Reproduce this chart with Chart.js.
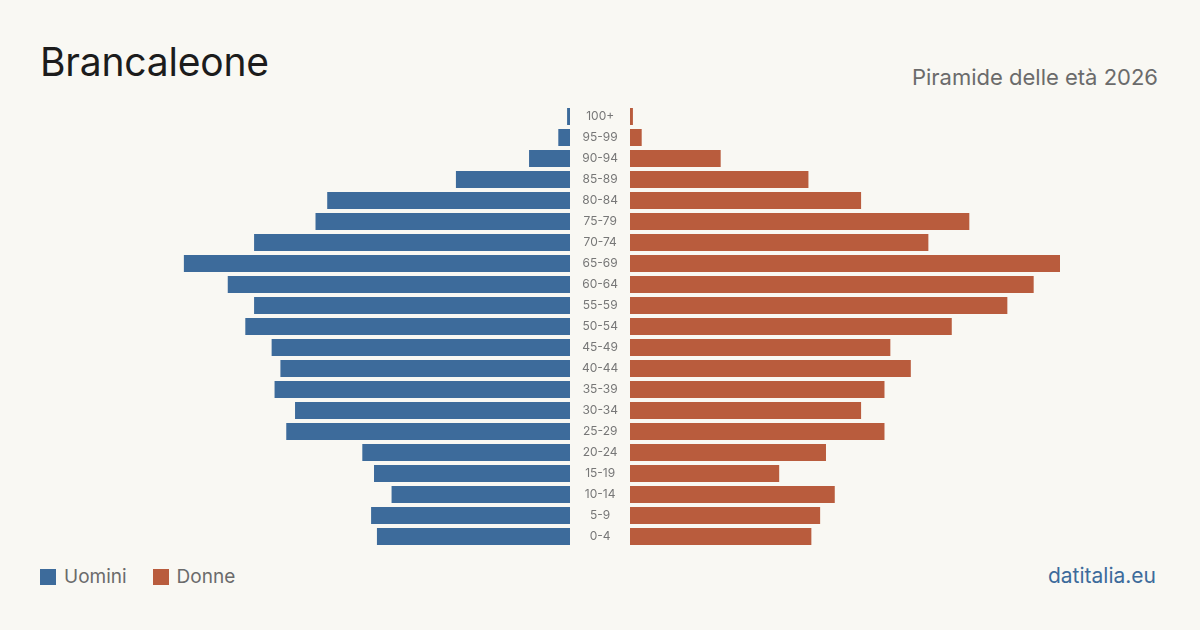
<!DOCTYPE html>
<html>
<head>
<meta charset="utf-8">
<script src="https://cdn.jsdelivr.net/npm/chart.js@4"></script>
<style>
  body { margin: 0; background: #f9f8f3; font-family: Inter, "Noto Sans", sans-serif; }
  #wrap { position: relative; width: 1200px; height: 630px; overflow: hidden; }
  #title { position: absolute; left: 40px; top: 38px; font-size: 39px; color: #1c1c1c; letter-spacing: -0.2px; }
  #sub { position: absolute; right: 42px; top: 64px; font-size: 22px; color: #6b6b6b; }
  .box { position: absolute; }
  #legend { position: absolute; left: 40px; top: 565px; font-size: 19px; color: #6b6b6b; display: flex; align-items: center; }
  #legend span.sw { display: inline-block; width: 16px; height: 16px; margin-right: 8px; }
  #legend span.it { display: flex; align-items: center; margin-right: 26px; }
  #src { position: absolute; right: 44px; top: 563px; font-size: 21px; color: #3d6b9b; }
</style>
</head>
<body>
<div id="wrap">
  <div id="title">Brancaleone</div>
  <div id="sub">Piramide delle età 2026</div>
  <div class="box" style="left:140px; top:106px; width:490px; height:441px;"><canvas id="left"></canvas></div>
  <div class="box" style="left:630px; top:106px; width:430px; height:441px;"><canvas id="right"></canvas></div>
  <div id="legend">
    <span class="it"><span class="sw" style="background:#3d6b9b"></span>Uomini</span>
    <span class="it"><span class="sw" style="background:#b95c3d"></span>Donne</span>
  </div>
  <div id="src">datitalia.eu</div>
</div>
<script>
const ageGroups = ['100+', '95-99', '90-94', '85-89', '80-84', '75-79', '70-74', '65-69', '60-64', '55-59',
  '50-54', '45-49', '40-44', '35-39', '30-34', '25-29', '20-24', '15-19', '10-14', '5-9', '0-4']
const men = [1, 4, 14, 39, 83, 87, 108, 132, 117, 108, 111, 102, 99, 101, 94, 97, 71, 67, 61, 68, 66]
const women = [1, 4, 31, 61, 79, 116, 102, 147, 138, 129, 110, 89, 96, 87, 79, 87, 67, 51, 70, 65, 62]
const maxVal = Math.max(...men, ...women)

const common = {
  responsive: true,
  maintainAspectRatio: false,
  animation: false,
  indexAxis: 'y',
  plugins: { legend: { display: false }, tooltip: { enabled: false } }
}

new Chart(document.getElementById('left'), {
  type: 'bar',
  data: {
    labels: ageGroups,
    datasets: [{ label: 'Uomini', data: men, backgroundColor: '#3d6b9b', barPercentage: 1, categoryPercentage: 0.81 }]
  },
  options: {
    ...common,
    scales: {
      x: { display: false, reverse: true, min: 0, max: maxVal },
      y: {
        position: 'right',
        grid: { display: false },
        border: { display: false },
        afterFit: (scale) => {
          scale.width = 60
          scale.paddingTop = 0
          scale.paddingBottom = 0
        },
        ticks: { crossAlign: 'center', padding: 4, color: '#777', font: { family: 'Inter', size: 12 } }
      }
    }
  }
})

new Chart(document.getElementById('right'), {
  type: 'bar',
  data: {
    labels: ageGroups,
    datasets: [{ label: 'Donne', data: women, backgroundColor: '#b95c3d', barPercentage: 1, categoryPercentage: 0.81 }]
  },
  options: {
    ...common,
    scales: {
      x: { display: false, min: 0, max: maxVal },
      y: { display: false }
    }
  }
})
</script>
</body>
</html>
